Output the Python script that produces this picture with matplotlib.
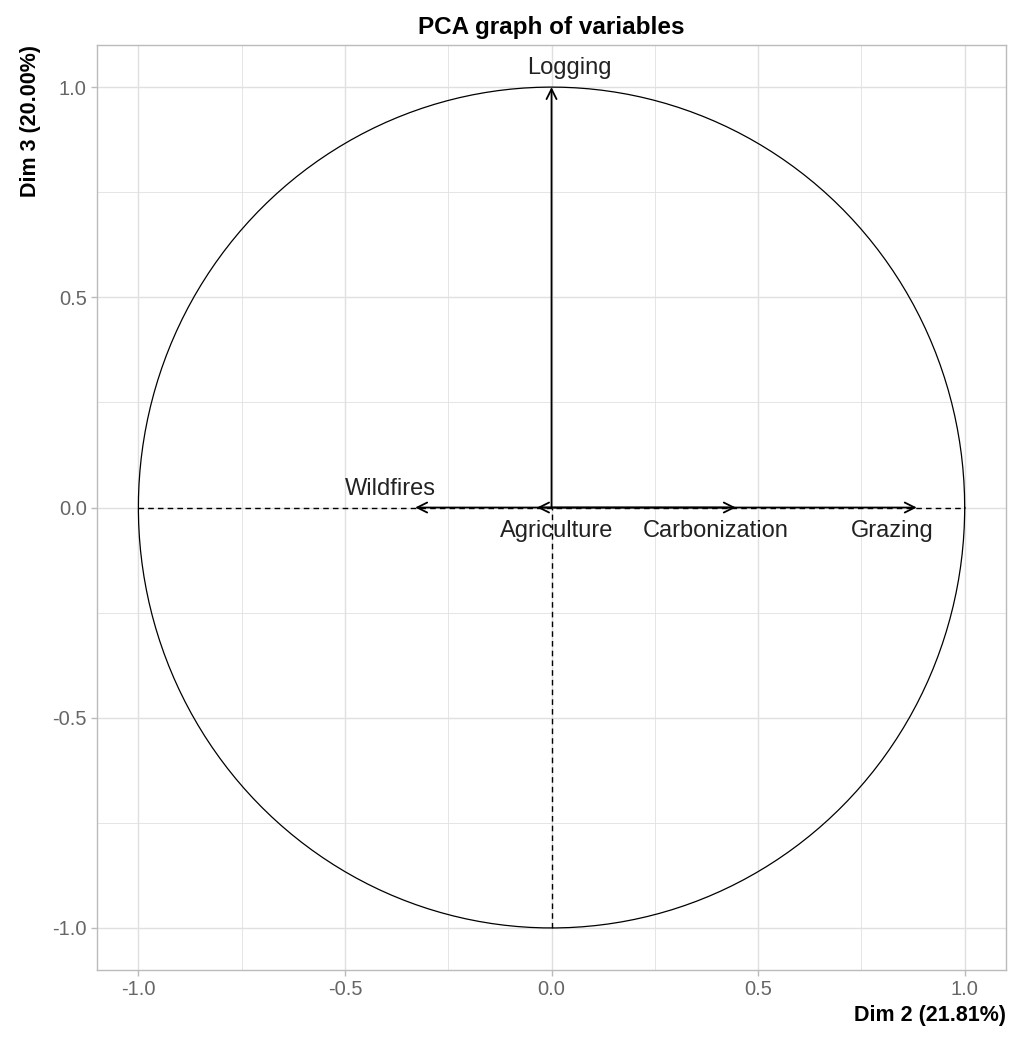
import numpy as np
import matplotlib.pyplot as plt

# variable coordinates on Dim 2 / Dim 3
variables = ["Logging", "Wildfires", "Agriculture", "Carbonization", "Grazing"]
dim2 = [0.0, -0.33, -0.035, 0.446, 0.884]
dim3 = [1.0, 0.0, 0.0, 0.0, 0.0]
# label positions (repelled text)
lab_x = [0.044, -0.39, 0.012, 0.397, 0.825]
lab_y = [1.045, 0.043, -0.055, -0.055, -0.055]

fig = plt.figure(figsize=(10.28, 10.38), dpi=100)
ax = fig.add_axes([0.0944, 0.0655, 0.8842, 0.8911])

grid_col = "#e0e0e0"
for v in np.arange(-1.0, 1.01, 0.25):
    lw = 1.0 if abs(v * 2 - round(v * 2)) < 1e-9 else 0.6
    ax.axvline(v, color=grid_col, lw=lw, zorder=0)
    ax.axhline(v, color=grid_col, lw=lw, zorder=0)

t = np.linspace(0, 2 * np.pi, 400)
ax.plot(np.cos(t), np.sin(t), color="black", lw=0.9, zorder=2)
ax.plot([-1, 1], [0, 0], color="black", lw=1.0, ls=(0, (4, 3)), zorder=2)
ax.plot([0, 0], [-1, 0], color="black", lw=1.0, ls=(0, (4, 3)), zorder=2)

for x, y in zip(dim2, dim3):
    ax.annotate("", xy=(x, y), xytext=(0, 0),
                arrowprops=dict(arrowstyle="->", color="black", lw=1.3,
                                shrinkA=0, shrinkB=0, mutation_scale=18),
                zorder=3)

for name, x, y in zip(variables, lab_x, lab_y):
    ax.text(x, y, name, ha="center", va="center", fontsize=17,
            family="Liberation Sans", color="#222222", zorder=4)

ax.set_xlim(-1.1, 1.1)
ax.set_ylim(-1.1, 1.1)
ax.set_xticks([-1.0, -0.5, 0.0, 0.5, 1.0])
ax.set_yticks([-1.0, -0.5, 0.0, 0.5, 1.0])
ax.set_xticklabels(["-1.0", "-0.5", "0.0", "0.5", "1.0"])
ax.set_yticklabels(["-1.0", "-0.5", "0.0", "0.5", "1.0"])
ax.tick_params(colors="#bbbbbb", labelcolor="#666666", labelsize=14.5,
               length=4, width=1)
for lab in ax.get_xticklabels() + ax.get_yticklabels():
    lab.set_family("Liberation Sans")
for s in ax.spines.values():
    s.set_color("#bbbbbb")
    s.set_linewidth(1.0)

ax.set_xlabel("Dim 2 (21.81%)", fontsize=15.5, fontweight="bold",
              family="Liberation Sans", loc="right", labelpad=4)
ax.set_ylabel("Dim 3 (20.00%)", fontsize=15.5, fontweight="bold",
              family="Liberation Sans", loc="top", labelpad=8)
ax.set_title("PCA graph of variables", fontsize=17.5, fontweight="bold",
             family="Liberation Sans", pad=8)

fig.savefig("out.png", dpi=100)
